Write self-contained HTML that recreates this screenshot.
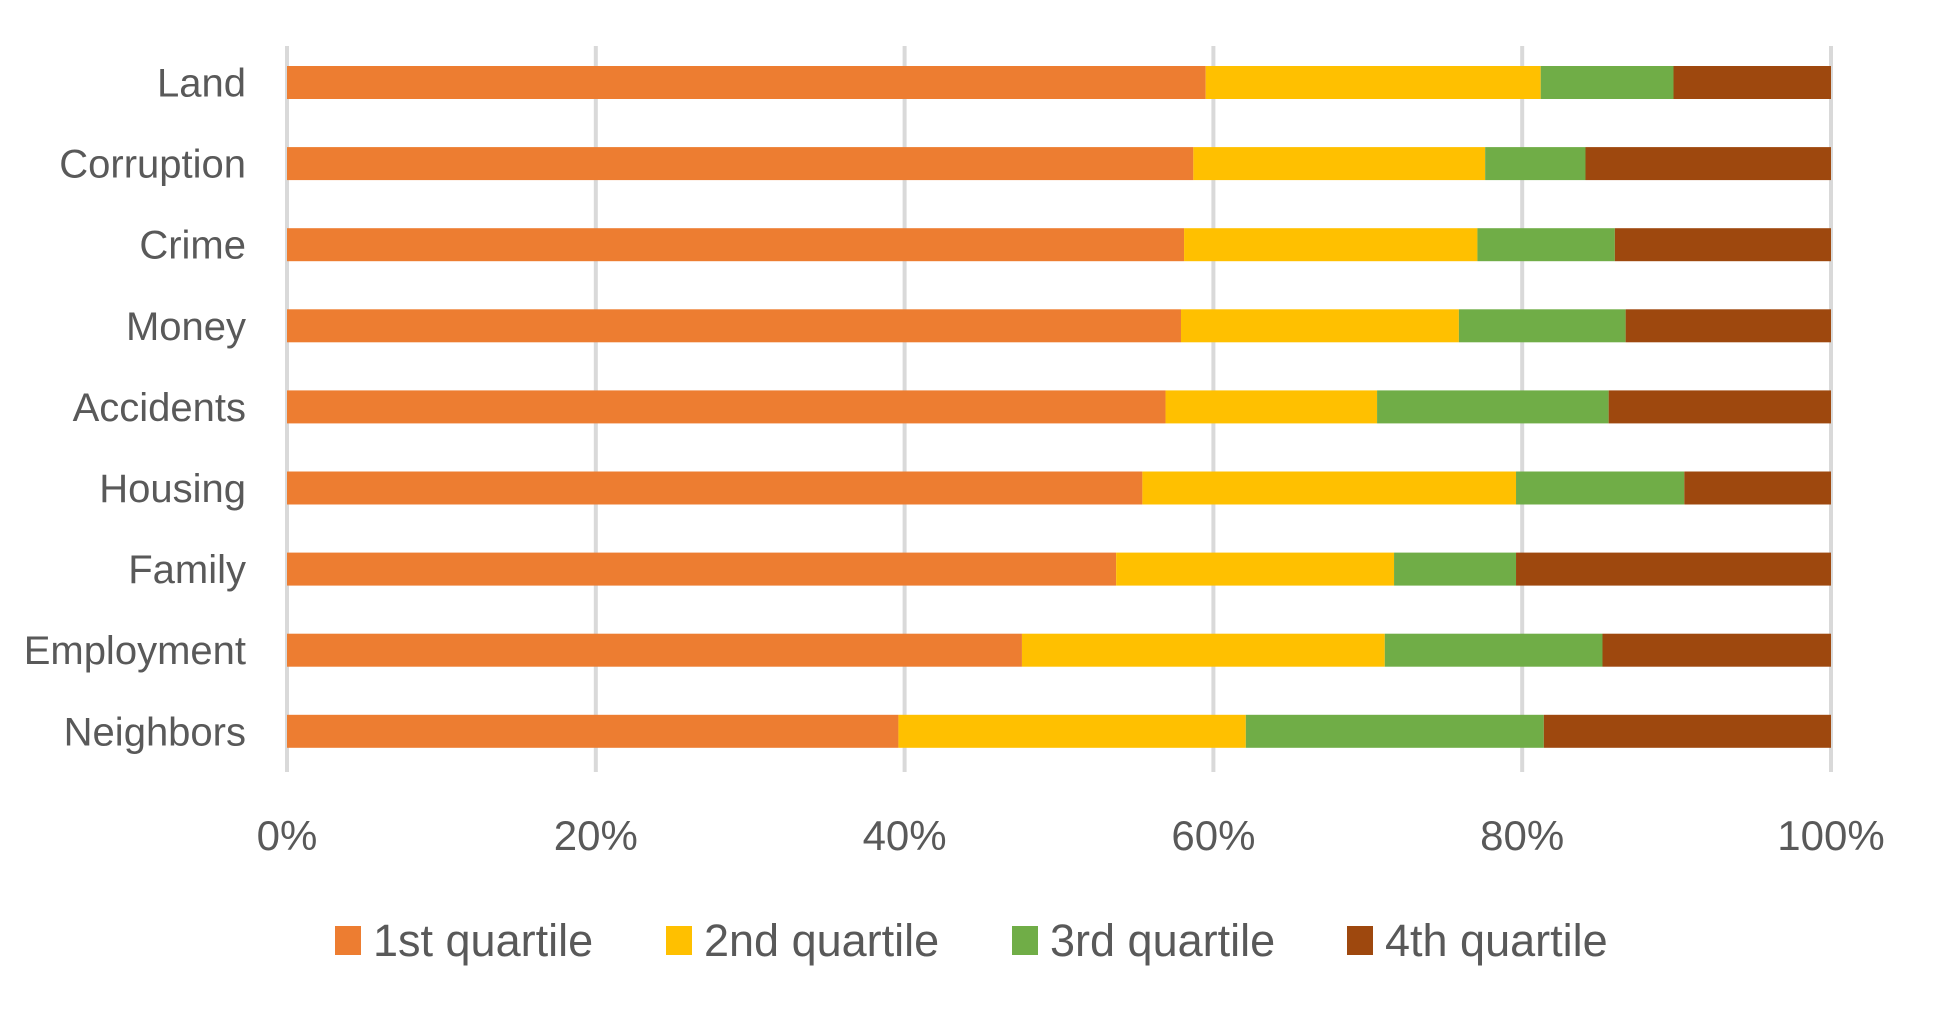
<!DOCTYPE html>
<html><head><meta charset="utf-8"><style>
html,body{margin:0;padding:0;background:#fff;}
svg text{font-family:"Liberation Sans",sans-serif;fill:#595959;}
</style></head><body>
<svg id="chart" width="1938" height="1004" xmlns="http://www.w3.org/2000/svg">
<g id="grid"></g>
<g id="bars"></g>
<g id="ylabels"></g>
<g id="xlabels"></g>
<g id="legend"></g>
</svg>
<script>
const categories = ["Land","Corruption","Crime","Money","Accidents","Housing","Family","Employment","Neighbors"];
const q1 = [59.5,58.7,58.1,57.9,56.9,55.4,53.7,47.6,39.6];
const q2 = [21.7,18.9,19.0,18.0,13.7,24.2,18.0,23.5,22.5];
const q3 = [8.6,6.5,8.9,10.8,15.0,10.9,7.9,14.1,19.3];
const q4 = [10.2,15.9,14.0,13.3,14.4,9.5,20.4,14.8,18.6];
const seriesNames = ["1st quartile","2nd quartile","3rd quartile","4th quartile"];
const ticks = [0,20,40,60,80,100];
const tickLabels = ["0%","20%","40%","60%","80%","100%"];

const colors = ["#ED7D31","#FFC000","#70AD47","#9E480E"];
const NS = "http://www.w3.org/2000/svg";
const x0 = 287, x1 = 1831;
const xs = v => x0 + (x1 - x0) * v / 100;
const rowTop = 66, rowStep = 81.1, barH = 33;
const yc = i => rowTop + i * rowStep;
function mk(tag, attrs, parent){const e=document.createElementNS(NS,tag);for(const k in attrs)e.setAttribute(k,attrs[k]);parent.appendChild(e);return e;}

const grid = document.getElementById('grid');
ticks.forEach((t,i)=>{
  const l = mk('line',{x1:xs(t),x2:xs(t),y1:46,y2:772,stroke:'#d9d9d9','stroke-width':4},grid);
  
  
  const tx = mk('text',{x:xs(t),y:850,'text-anchor':'middle','font-size':42},document.getElementById('xlabels'));
  tx.textContent = tickLabels[i];
  
  
});

const series = [q1,q2,q3,q4];
const bars = document.getElementById('bars');
categories.forEach((c,i)=>{
  let acc = 0;
  series.forEach((s,k)=>{
    const v = s[i];
    const r = mk('rect',{x:xs(acc),y:yc(i),width:xs(acc+v)-xs(acc),height:barH,fill:colors[k]},bars);
    
    
    acc += v;
  });
  const t = mk('text',{x:246,y:yc(i)+barH/2+14,'text-anchor':'end','font-size':40},document.getElementById('ylabels'));
  t.textContent = c;
  
  
});

const legend = document.getElementById('legend');
const lx = [335,666,1012,1347];
seriesNames.forEach((n,k)=>{
  const g = mk('g',{},legend);
  
  
  mk('rect',{x:lx[k],y:926,width:26,height:29,fill:colors[k]},g);
  const t = mk('text',{x:lx[k]+38,y:956,'font-size':45},g);
  t.textContent = n;
});
</script>
</body></html>
